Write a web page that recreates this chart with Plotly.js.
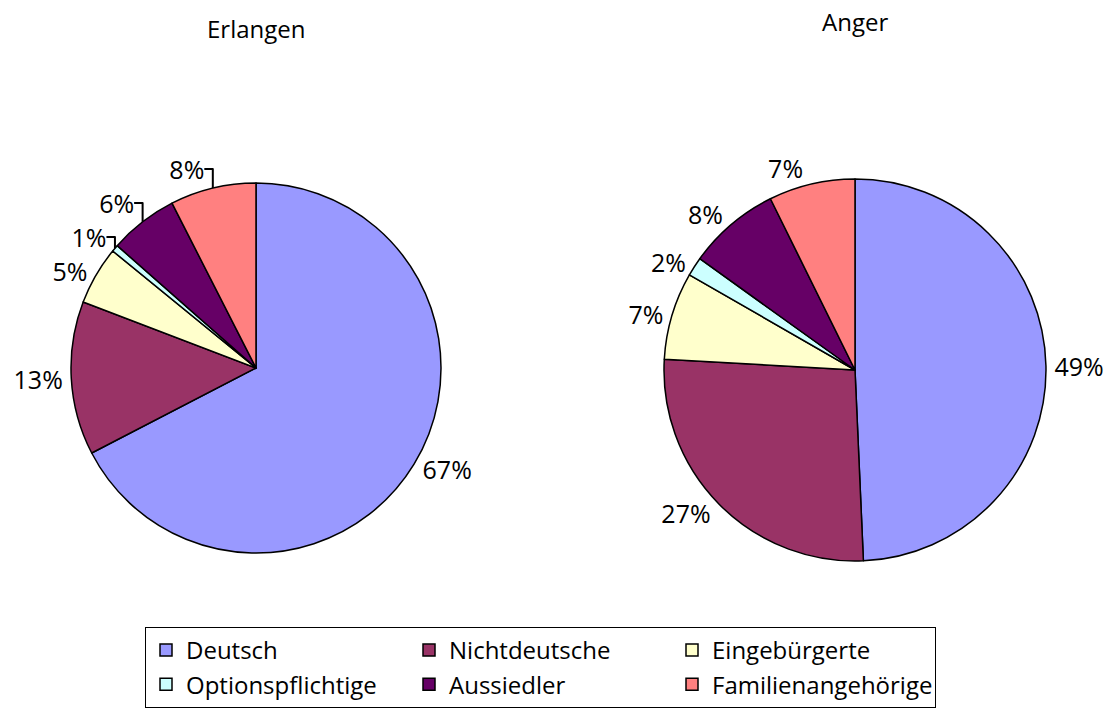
<!DOCTYPE html>
<html>
<head>
<meta charset="utf-8">
<script src="https://cdn.plot.ly/plotly-3.0.1.min.js"></script>
<style>html,body{margin:0;padding:0;background:#fff;}#chart{width:1106px;height:713px;}</style>
</head>
<body>
<div id="chart"></div>
<script>
const categories = ["Deutsch", "Nichtdeutsche", "Eingebürgerte", "Optionspflichtige", "Aussiedler", "Familienangehörige"];
const erlangenValues = [67.4, 13.4, 5.1, 0.6, 6.0, 7.5];
const angerValues = [49.3, 26.6, 7.4, 1.6, 7.8, 7.3];
const colors = ["#9999FF", "#993366", "#FFFFCC", "#CCFFFF", "#660066", "#FF8080"];
const titles = ["Erlangen", "Anger"];

const FONT = "Open Sans, Liberation Sans, sans-serif";
const W = 1106, H = 713, ML = 70;
const PW = W - ML;
const px = v => (v - ML) / PW;
const py = v => 1 - v / H;

function pieTrace(values, domain) {
  return {
    type: "pie",
    labels: categories,
    values: values,
    sort: false,
    direction: "clockwise",
    rotation: 0,
    domain: domain,
    marker: {colors: colors, line: {color: "#000", width: 1.5}},
    textposition: "outside",
    texttemplate: "%{percent:.0%}",
    textfont: {family: FONT, size: 25, color: "#000"},
    hoverinfo: "label+percent"
  };
}

const data = [
  pieTrace(erlangenValues, {x: [px(71), px(441)], y: [py(553), py(183)]}),
  pieTrace(angerValues, {x: [px(664), px(1046)], y: [py(561), py(179)]})
];

const layout = {
  width: W, height: H,
  margin: {l: ML, r: 0, t: 0, b: 0, autoexpand: false},
  paper_bgcolor: "#fff",
  font: {family: FONT, size: 24, color: "#000"},
  showlegend: true,
  legend: {
    orientation: "h",
    x: px(145), xanchor: "left",
    y: py(627), yanchor: "top",
    entrywidth: 218, entrywidthmode: "pixels",
    bordercolor: "#000", borderwidth: 1,
    font: {family: FONT, size: 24, color: "#000"},
    traceorder: "normal"
  },
  annotations: [
    {text: titles[0], x: px(256), y: py(28), xref: "paper", yref: "paper", xanchor: "center", yanchor: "middle", showarrow: false, font: {family: FONT, size: 24, color: "#000"}},
    {text: titles[1], x: px(855), y: py(22), xref: "paper", yref: "paper", xanchor: "center", yanchor: "middle", showarrow: false, font: {family: FONT, size: 24, color: "#000"}}
  ]
};

Plotly.newPlot("chart", data, layout, {displayModeBar: false, staticPlot: true});
</script>
</body>
</html>
